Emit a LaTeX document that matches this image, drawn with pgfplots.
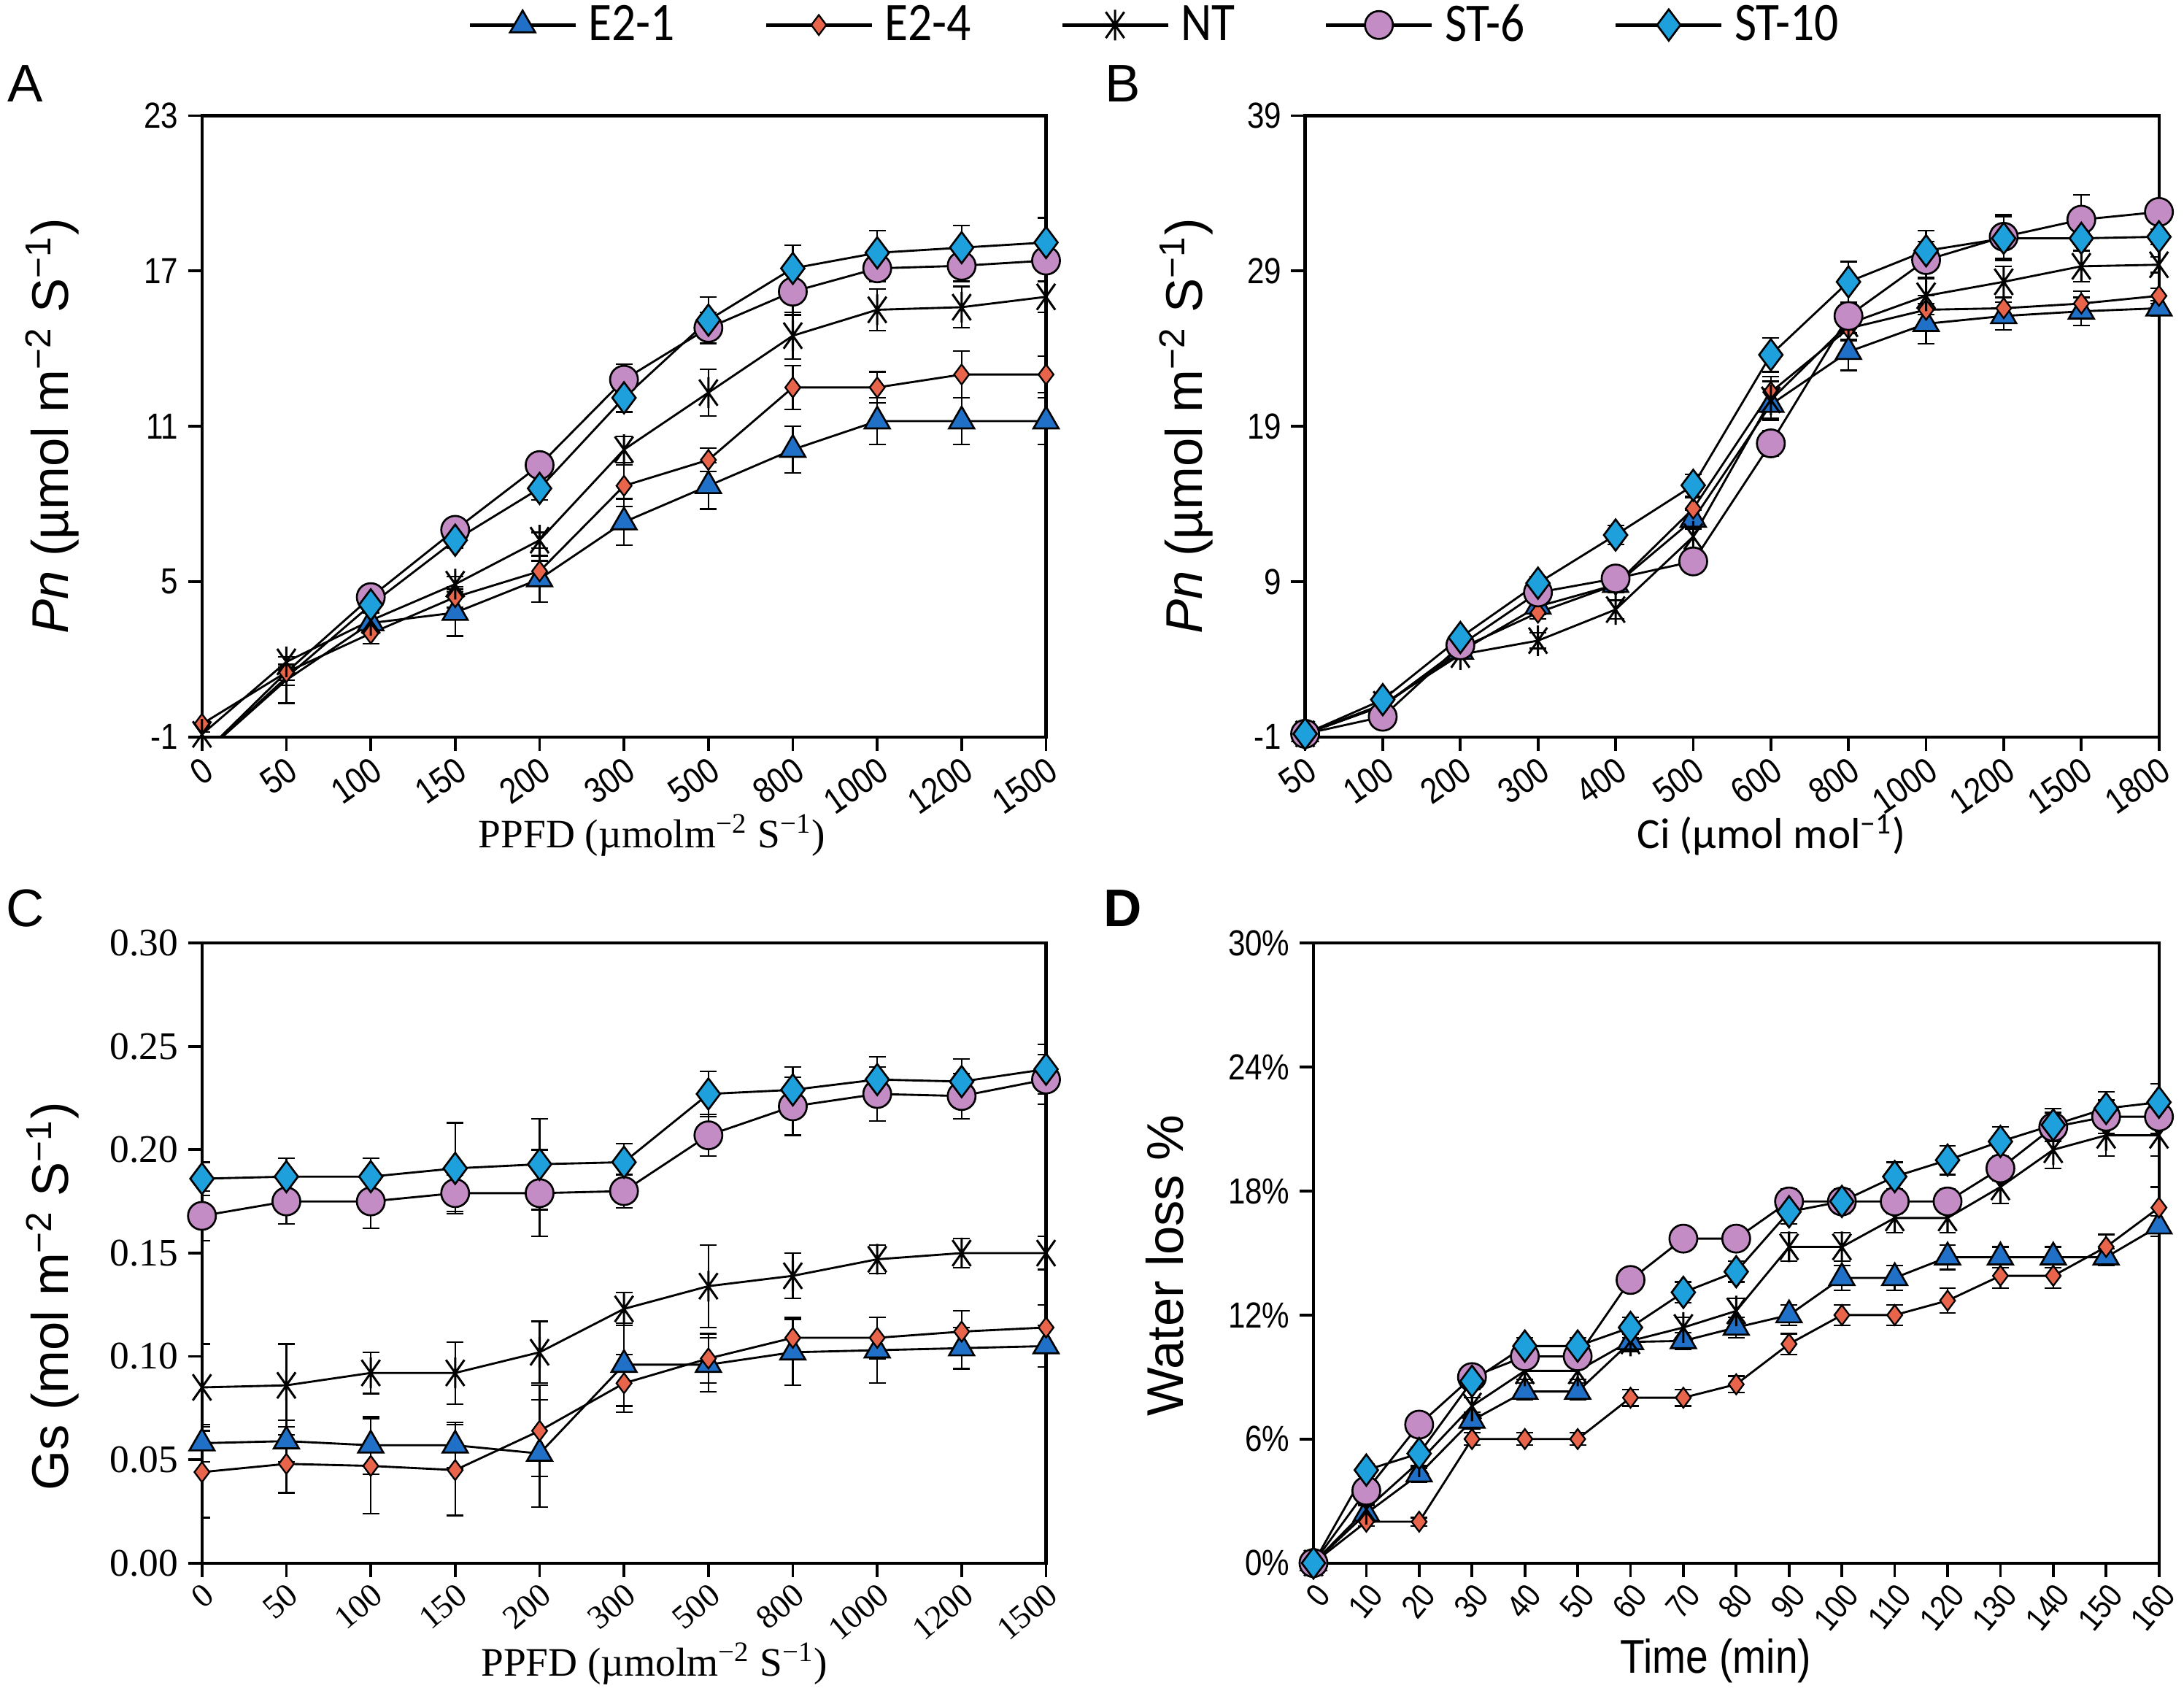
\documentclass[border=0pt]{standalone}
\usepackage{fontspec}
\setmainfont{Liberation Sans}
\newfontfamily\narfont{Liberation Sans}[FakeStretch=0.85]
\newfontfamily\tmsfont{Liberation Serif}
\newfontfamily\legfont{Carlito}[FakeStretch=0.88]
\newfontfamily\carfont{Carlito}
\usepackage{pgfplots}
\pgfplotsset{compat=1.18}

\definecolor{ceone}{RGB}{32,112,200}
\definecolor{cefour}{RGB}{232,100,74}
\definecolor{csix}{RGB}{196,140,196}
\definecolor{cten}{RGB}{30,160,220}

% Excel-like star: X plus vertical bar
\pgfdeclareplotmark{ntstar}{%
  \pgfpathmoveto{\pgfqpoint{0pt}{\pgfplotmarksize}}%
  \pgfpathlineto{\pgfqpoint{0pt}{-\pgfplotmarksize}}%
  \pgfpathmoveto{\pgfqpoint{-.6\pgfplotmarksize}{.85\pgfplotmarksize}}%
  \pgfpathlineto{\pgfqpoint{.6\pgfplotmarksize}{-.85\pgfplotmarksize}}%
  \pgfpathmoveto{\pgfqpoint{-.6\pgfplotmarksize}{-.85\pgfplotmarksize}}%
  \pgfpathlineto{\pgfqpoint{.6\pgfplotmarksize}{.85\pgfplotmarksize}}%
  \pgfusepathqstroke}

\pgfplotsset{
  panel/.style={
    scale only axis,
    axis line style={line width=1.1pt},
    tick align=outside, xtick pos=left, ytick pos=left,
    major tick length=5pt,
    every tick/.style={black,line width=1pt},
    /pgf/number format/assume math mode=true,
    tick label style={font=\narfont\fontsize{13}{13}\selectfont},
    ylabel style={font=\fontsize{18.5}{20}\selectfont},
  },
  ebar/.style={
    /pgfplots/error bars/y dir=both,
    /pgfplots/error bars/y explicit,
    /pgfplots/error bars/error bar style={line width=0.6pt,black},
    /pgfplots/error bars/error mark options={rotate=90,mark size=3pt,line width=0.6pt,black},
  },
  e21/.style={ebar,black,line width=0.75pt,mark=triangle*,mark size=5.2pt,
    mark options={fill=ceone,draw=black,line width=0.7pt}},
  e24/.style={ebar,black,line width=0.75pt,mark=diamond*,mark size=3.6pt,
    mark options={fill=cefour,draw=black,line width=0.6pt}},
  nt/.style={ebar,black,line width=0.75pt,mark=ntstar,mark size=5.5pt,
    mark options={draw=black,line width=0.8pt}},
  st6/.style={ebar,black,line width=0.75pt,mark=*,mark size=5pt,
    mark options={fill=csix,draw=black,line width=0.7pt}},
  st10/.style={ebar,black,line width=0.75pt,mark=diamond*,mark size=5.6pt,
    mark options={fill=cten,draw=black,line width=0.7pt}},
}

\begin{document}
\begin{tikzpicture}
\path[use as bounding box] (0,0) rectangle (784pt,-606.9pt);

\node[font=\fontsize{19}{19}\selectfont] at (9pt,-30pt) {A};
\node[font=\fontsize{19}{19}\selectfont] at (403pt,-30pt) {B};
\node[font=\fontsize{19}{19}\selectfont] at (9pt,-326pt) {C};
\node[font=\bfseries\fontsize{19}{19}\selectfont] at (403pt,-326pt) {D};

% ---------------- A ----------------
\begin{axis}[panel, at={(72.5pt,-41.5pt)}, anchor=north west,
  width=303pt, height=223pt,
  xmin=0, xmax=10, ymin=-1, ymax=23, ytick={-1,5,11,17,23},
  xtick={0,...,10},
  xticklabels={0,50,100,150,200,300,500,800,1000,1200,1500},
  xticklabel style={rotate=35,anchor=north east,inner sep=1pt},
  ylabel={\textit{Pn} (µmol m\textsuperscript{−2} S\textsuperscript{−1})},
  ylabel style={at={(axis description cs:-0.177,0.5)},anchor=center},
  xlabel={PPFD (µmolm\textsuperscript{−2} S\textsuperscript{−1})},
  xlabel style={font=\tmsfont\fontsize{14.5}{16}\selectfont,
    at={(axis description cs:0.533,-0.158)},anchor=center},
]
\addplot[e21,mark indices={2,3,4,5,6,7,8,9,10,11}] table[x=x,y=y,y error=e]{
x y e
0 -1.7 0
1 1.2 0.9
2 3.4 0.4
3 3.8 0.9
4 5.1 0.9
5 7.3 0.9
6 8.7 0.9
7 10.1 0.9
8 11.2 0.9
9 11.2 0.9
10 11.2 0.9
};
\addplot[e24] table[x=x,y=y,y error=e]{
x y e
0 -0.5 0.1
1 1.5 0.3
2 3.0 0.4
3 4.4 0.4
4 5.4 0.4
5 8.7 0.8
6 9.7 0.45
7 12.5 0.85
8 12.5 0.6
9 13.0 0.9
10 13.0 0.7
};
\addplot[nt] table[x=x,y=y,y error=e]{
x y e
0 -0.9 0.1
1 1.9 0.2
2 3.5 0.3
3 4.9 0.3
4 6.6 0.3
5 10.1 0.5
6 12.3 0.9
7 14.5 0.9
8 15.5 0.8
9 15.6 0.8
10 16.0 0.6
};
\addplot[st6,mark indices={2,3,4,5,6,7,8,9,10,11}] table[x=x,y=y,y error=e]{
x y e
0 -1.7 0
1 1.5 0.3
2 4.4 0.3
3 7.0 0.3
4 9.5 0.4
5 12.8 0.6
6 14.8 0.6
7 16.2 0.9
8 17.1 0.5
9 17.2 0.6
10 17.4 0.4
};
\addplot[st10,mark indices={2,3,4,5,6,7,8,9,10,11}] table[x=x,y=y,y error=e]{
x y e
0 -1.7 0
1 1.3 0.3
2 4.1 0.3
3 6.6 0.3
4 8.6 0.45
5 12.1 0.55
6 15.1 0.9
7 17.1 0.9
8 17.7 0.85
9 17.9 0.85
10 18.1 0.95
};
\end{axis}

% ---------------- B ----------------
\begin{axis}[panel, at={(468.5pt,-41.5pt)}, anchor=north west,
  width=306.5pt, height=223pt,
  xmin=0, xmax=11, ymin=-1, ymax=39, ytick={-1,9,19,29,39},
  xtick={0,...,11},
  xticklabels={50,100,200,300,400,500,600,800,1000,1200,1500,1800},
  xticklabel style={rotate=35,anchor=north east,inner sep=1pt},
  ylabel={\textit{Pn} (µmol m\textsuperscript{−2} S\textsuperscript{−1})},
  ylabel style={at={(axis description cs:-0.139,0.5)},anchor=center},
  xlabel={Ci (µmol mol\textsuperscript{−1})},
  xlabel style={font=\carfont\fontsize{15.5}{17}\selectfont,
    at={(axis description cs:0.546,-0.158)},anchor=center},
]
\addplot[e21] table[x=x,y=y,y error=e]{
x y e
0 -0.8 0.2
1 1.0 0.3
2 4.5 0.3
3 7.4 0.5
4 8.8 0.5
5 13.0 0.6
6 20.4 1.0
7 23.8 1.2
8 25.6 1.3
9 26.1 0.9
10 26.4 0.9
11 26.6 0.5
};
\addplot[e24] table[x=x,y=y,y error=e]{
x y e
0 -0.8 0.2
1 1.0 0.3
2 4.7 0.3
3 7.0 0.4
4 8.8 0.5
5 13.7 0.7
6 21.2 1.0
7 25.3 0.8
8 26.5 0.9
9 26.6 0.7
10 26.9 0.8
11 27.4 0.5
};
\addplot[nt] table[x=x,y=y,y error=e]{
x y e
0 -0.8 0.2
1 1.1 0.3
2 4.3 0.3
3 5.2 0.5
4 7.2 0.6
5 11.9 0.8
6 20.7 1.2
7 25.6 1.0
8 27.4 1.2
9 28.3 1.0
10 29.3 1.0
11 29.4 0.5
};
\addplot[st6] table[x=x,y=y,y error=e]{
x y e
0 -0.8 0.2
1 0.3 0.4
2 4.9 0.3
3 8.3 0.5
4 9.2 0.5
5 10.3 0.5
6 17.9 0.8
7 26.1 0.8
8 29.7 1.2
9 31.2 1.4
10 32.3 1.6
11 32.8 0.5
};
\addplot[st10] table[x=x,y=y,y error=e]{
x y e
0 -0.8 0.2
1 1.4 0.3
2 5.4 0.3
3 8.9 0.4
4 12.0 0.6
5 15.2 0.7
6 23.6 1.1
7 28.3 1.3
8 30.3 1.3
9 31.1 1.4
10 31.1 0.8
11 31.2 0.5
};
\end{axis}

% ---------------- C ----------------
\begin{axis}[panel, at={(72.5pt,-338.5pt)}, anchor=north west,
  width=303pt, height=222.5pt,
  xmin=0, xmax=10, ymin=0, ymax=0.30, ytick={0,0.05,...,0.31},
  yticklabel style={/pgf/number format/.cd,fixed,fixed zerofill,precision=2},
  tick label style={font=\tmsfont\fontsize{14}{14}\selectfont},
  xtick={0,...,10},
  xticklabels={0,50,100,150,200,300,500,800,1000,1200,1500},
  xticklabel style={rotate=40,anchor=north east,inner sep=1pt,
    font=\tmsfont\fontsize{12}{12}\selectfont},
  ylabel={Gs (mol m\textsuperscript{−2} S\textsuperscript{−1})},
  ylabel style={at={(axis description cs:-0.177,0.43)},anchor=center},
  xlabel={PPFD (µmolm\textsuperscript{−2} S\textsuperscript{−1})},
  xlabel style={font=\tmsfont\fontsize{14.5}{16}\selectfont,
    at={(axis description cs:0.536,-0.162)},anchor=center},
]
\addplot[e21] table[x=x,y=y,y error=e]{
x y e
0 0.058 0.009
1 0.059 0.010
2 0.057 0.014
3 0.057 0.011
4 0.053 0.026
5 0.096 0.020
6 0.096 0.013
7 0.102 0.016
8 0.103 0.016
9 0.104 0.010
10 0.105 0.010
};
\addplot[e24] table[x=x,y=y,y error=e]{
x y e
0 0.044 0.022
1 0.048 0.014
2 0.047 0.023
3 0.045 0.022
4 0.064 0.022
5 0.087 0.014
6 0.099 0.012
7 0.109 0.010
8 0.109 0.010
9 0.112 0.010
10 0.114 0.011
};
\addplot[nt] table[x=x,y=y,y error=e]{
x y e
0 0.085 0.021
1 0.086 0.020
2 0.092 0.010
3 0.092 0.015
4 0.102 0.015
5 0.123 0.008
6 0.134 0.020
7 0.139 0.011
8 0.147 0.007
9 0.150 0.007
10 0.150 0.008
};
\addplot[st6] table[x=x,y=y,y error=e]{
x y e
0 0.168 0.012
1 0.175 0.011
2 0.175 0.013
3 0.179 0.009
4 0.179 0.021
5 0.180 0.008
6 0.207 0.010
7 0.221 0.014
8 0.227 0.013
9 0.226 0.011
10 0.234 0.012
};
\addplot[st10] table[x=x,y=y,y error=e]{
x y e
0 0.186 0.008
1 0.187 0.009
2 0.187 0.009
3 0.191 0.022
4 0.193 0.022
5 0.194 0.009
6 0.227 0.011
7 0.229 0.011
8 0.234 0.011
9 0.233 0.011
10 0.239 0.012
};
\end{axis}

% ---------------- D ----------------
\begin{axis}[panel, at={(471.5pt,-338.5pt)}, anchor=north west,
  width=303.5pt, height=222.5pt,
  xmin=0, xmax=160, ymin=0, ymax=30, ytick={0,6,...,30},
  yticklabel={\pgfmathprintnumber{\tick}\%},
  xtick={0,10,...,160},
  xticklabel style={rotate=50,anchor=north east,inner sep=1pt,
    font=\narfont\fontsize{12}{12}\selectfont},
  ylabel={Water loss \%},
  ylabel style={at={(axis description cs:-0.176,0.48)},anchor=center},
  xlabel={Time (min)},
  xlabel style={font=\narfont\fontsize{17}{18}\selectfont,
    at={(axis description cs:0.476,-0.158)},anchor=center},
  legend columns=5,
  legend style={at={(-0.186,2.481)},anchor=center,draw=none,fill=none,
    font=\legfont\fontsize{19.5}{19.5}\selectfont,
    /tikz/every even column/.append style={column sep=30pt},
    /tikz/every odd column/.append style={column sep=2pt}},
  legend image code/.code={%
    \draw[mark repeat=2,mark phase=2,#1,line width=1.3pt] plot coordinates {(0pt,0pt) (19pt,0pt) (38pt,0pt)};},
]
\addplot[e21] table[x=x,y=y,y error=e]{
x y e
0 0 0
10 2.4 0.4
20 4.3 0.4
30 6.9 0.4
40 8.3 0.4
50 8.3 0.4
60 10.7 0.4
70 10.75 0.4
80 11.4 0.5
90 12.0 0.5
100 13.8 0.6
110 13.8 0.6
120 14.8 0.6
130 14.8 0.5
140 14.8 0.5
150 14.8 0.4
160 16.3 0.5
};
\addlegendentry{E2-1}
\addplot[e24] table[x=x,y=y,y error=e]{
x y e
0 0 0
10 2.0 0.2
20 2.0 0.2
30 6.0 0.3
40 6.0 0.3
50 6.0 0.3
60 8.0 0.4
70 8.0 0.4
80 8.65 0.4
90 10.6 0.5
100 12.0 0.5
110 12.0 0.5
120 12.7 0.6
130 13.9 0.6
140 13.9 0.6
150 15.3 0.6
160 17.2 1.0
};
\addlegendentry{E2-4}
\addplot[nt] table[x=x,y=y,y error=e]{
x y e
0 0 0
10 2.6 0.3
20 4.9 0.3
30 7.6 0.4
40 9.3 0.4
50 9.3 0.4
60 10.75 0.5
70 11.4 0.5
80 12.2 0.6
90 15.3 0.7
100 15.3 0.7
110 16.7 0.7
120 16.7 0.7
130 18.2 0.8
140 20.0 0.9
150 20.7 1.0
160 20.7 1.0
};
\addlegendentry{NT}
\addplot[st6] table[x=x,y=y,y error=e]{
x y e
0 0 0
10 3.5 0.3
20 6.7 0.3
30 9.0 0.3
40 10.0 0.5
50 10.0 0.5
60 13.7 0.5
70 15.7 0.5
80 15.7 0.5
90 17.5 0.6
100 17.5 0.6
110 17.5 0.6
120 17.5 0.6
130 19.1 0.6
140 21.1 0.7
150 21.6 0.8
160 21.6 0.8
};
\addlegendentry{ST-6}
\addplot[st10] table[x=x,y=y,y error=e]{
x y e
0 0 0
10 4.5 0.3
20 5.3 0.3
30 8.8 0.4
40 10.5 0.4
50 10.5 0.4
60 11.4 0.5
70 13.1 0.5
80 14.1 0.5
90 17.0 0.6
100 17.5 0.6
110 18.7 0.7
120 19.5 0.7
130 20.4 0.7
140 21.2 0.8
150 22.0 0.8
160 22.3 0.9
};
\addlegendentry{ST-10}
\end{axis}
\end{tikzpicture}
\end{document}
